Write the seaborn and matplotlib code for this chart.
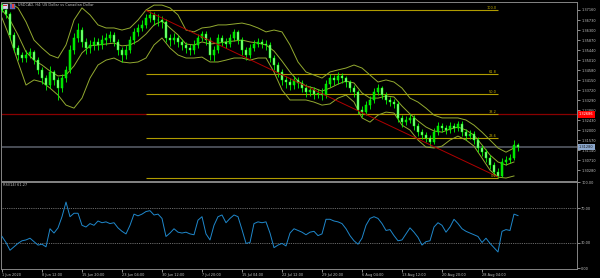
import numpy as np
import pandas as pd
import matplotlib
matplotlib.use("Agg")
import matplotlib.pyplot as plt
import matplotlib.transforms as mtransforms
from matplotlib.patches import Rectangle
import seaborn as sns

# ---------------- data ----------------
symbol_title = "USDCAD, H4: US Dollar vs Canadian Dollar"
rsi_title = "RSI(14) 61.27"

first_open = 1.3737
close = [
    1.3716, 1.3699, 1.3609, 1.3553, 1.3523, 1.3510, 1.3523, 1.3536, 1.3501, 1.3459,
    1.3424, 1.3394, 1.3450, 1.3416, 1.3381, 1.3424, 1.3459, 1.3544, 1.3596, 1.3630,
    1.3579, 1.3553, 1.3566, 1.3579, 1.3566, 1.3587, 1.3596, 1.3609, 1.3579, 1.3544,
    1.3523, 1.3544, 1.3587, 1.3622, 1.3639, 1.3652, 1.3682, 1.3695, 1.3673, 1.3673,
    1.3665, 1.3596, 1.3587, 1.3596, 1.3579, 1.3566, 1.3553, 1.3544, 1.3566, 1.3596,
    1.3613, 1.3587, 1.3523, 1.3544, 1.3596, 1.3579, 1.3570, 1.3596, 1.3622, 1.3587,
    1.3544, 1.3523, 1.3553, 1.3570, 1.3579, 1.3570, 1.3566, 1.3510, 1.3480, 1.3450,
    1.3416, 1.3407, 1.3394, 1.3416, 1.3403, 1.3381, 1.3364, 1.3373, 1.3355, 1.3360,
    1.3351, 1.3398, 1.3424, 1.3416, 1.3433, 1.3424, 1.3407, 1.3381, 1.3364, 1.3287,
    1.3278, 1.3308, 1.3330, 1.3364, 1.3381, 1.3351, 1.3330, 1.3321, 1.3313, 1.3253,
    1.3235, 1.3244, 1.3253, 1.3218, 1.3192, 1.3179, 1.3167, 1.3149, 1.3192, 1.3218,
    1.3210, 1.3201, 1.3218, 1.3210, 1.3227, 1.3192, 1.3175, 1.3184, 1.3158, 1.3124,
    1.3106, 1.3081, 1.3051, 1.3021, 1.3004, 1.3064, 1.3072, 1.3081, 1.3137, 1.3128,
]
high = [
    1.3746, 1.3725, 1.3707, 1.3622, 1.3566, 1.3536, 1.3544, 1.3553, 1.3544, 1.3514,
    1.3471, 1.3437, 1.3476, 1.3459, 1.3428, 1.3441, 1.3476, 1.3566, 1.3617, 1.3660,
    1.3643, 1.3596, 1.3587, 1.3600, 1.3596, 1.3609, 1.3617, 1.3626, 1.3622, 1.3592,
    1.3557, 1.3566, 1.3604, 1.3639, 1.3656, 1.3673, 1.3699, 1.3712, 1.3707, 1.3699,
    1.3690, 1.3677, 1.3613, 1.3617, 1.3609, 1.3592, 1.3579, 1.3570, 1.3587, 1.3613,
    1.3626, 1.3626, 1.3600, 1.3562, 1.3613, 1.3609, 1.3596, 1.3613, 1.3635, 1.3630,
    1.3600, 1.3557, 1.3570, 1.3587, 1.3596, 1.3592, 1.3587, 1.3579, 1.3523, 1.3493,
    1.3463, 1.3433, 1.3424, 1.3433, 1.3428, 1.3416, 1.3398, 1.3390, 1.3386, 1.3377,
    1.3381, 1.3416, 1.3441, 1.3437, 1.3450, 1.3446, 1.3433, 1.3416, 1.3394, 1.3373,
    1.3304, 1.3326, 1.3347, 1.3381, 1.3398, 1.3390, 1.3364, 1.3343, 1.3334, 1.3326,
    1.3265, 1.3261, 1.3270, 1.3265, 1.3231, 1.3205, 1.3192, 1.3179, 1.3210, 1.3235,
    1.3231, 1.3222, 1.3235, 1.3231, 1.3240, 1.3240, 1.3205, 1.3201, 1.3197, 1.3171,
    1.3137, 1.3119, 1.3094, 1.3064, 1.3038, 1.3081, 1.3089, 1.3098, 1.3158, 1.3145,
]
low = [
    1.3707, 1.3682, 1.3587, 1.3536, 1.3501, 1.3493, 1.3493, 1.3510, 1.3484, 1.3441,
    1.3398, 1.3373, 1.3381, 1.3394, 1.3330, 1.3364, 1.3407, 1.3446, 1.3527, 1.3579,
    1.3557, 1.3527, 1.3532, 1.3544, 1.3544, 1.3549, 1.3566, 1.3579, 1.3562, 1.3523,
    1.3493, 1.3506, 1.3532, 1.3570, 1.3604, 1.3626, 1.3639, 1.3665, 1.3652, 1.3647,
    1.3639, 1.3579, 1.3562, 1.3570, 1.3557, 1.3544, 1.3532, 1.3523, 1.3527, 1.3553,
    1.3583, 1.3566, 1.3501, 1.3497, 1.3532, 1.3562, 1.3553, 1.3557, 1.3583, 1.3570,
    1.3523, 1.3501, 1.3510, 1.3540, 1.3557, 1.3553, 1.3544, 1.3493, 1.3459, 1.3428,
    1.3394, 1.3381, 1.3373, 1.3377, 1.3381, 1.3364, 1.3343, 1.3347, 1.3334, 1.3338,
    1.3330, 1.3338, 1.3386, 1.3394, 1.3398, 1.3403, 1.3386, 1.3364, 1.3343, 1.3270,
    1.3257, 1.3265, 1.3291, 1.3317, 1.3351, 1.3334, 1.3313, 1.3304, 1.3295, 1.3235,
    1.3214, 1.3222, 1.3231, 1.3201, 1.3175, 1.3162, 1.3149, 1.3132, 1.3141, 1.3179,
    1.3192, 1.3184, 1.3188, 1.3192, 1.3197, 1.3175, 1.3158, 1.3162, 1.3141, 1.3106,
    1.3089, 1.3064, 1.3034, 1.3004, 1.2995, 1.2999, 1.3051, 1.3059, 1.3072, 1.3111,
]

# Bollinger band readings, one reading every bb_step candles
bb_step = 2
bb_upper = [
    1.3750, 1.3746, 1.3725, 1.3665, 1.3587, 1.3553, 1.3523, 1.3510, 1.3566, 1.3673,
    1.3725, 1.3695, 1.3652, 1.3639, 1.3639, 1.3630, 1.3639, 1.3673, 1.3716, 1.3737,
    1.3737, 1.3725, 1.3695, 1.3630, 1.3622, 1.3639, 1.3643, 1.3652, 1.3652, 1.3656,
    1.3660, 1.3652, 1.3639, 1.3622, 1.3630, 1.3622, 1.3566, 1.3493, 1.3450, 1.3437,
    1.3424, 1.3450, 1.3459, 1.3467, 1.3480, 1.3467, 1.3437, 1.3407, 1.3416, 1.3407,
    1.3381, 1.3338, 1.3321, 1.3295, 1.3265, 1.3253, 1.3253, 1.3253, 1.3244, 1.3222,
    1.3192, 1.3158, 1.3124, 1.3106, 1.3124,
]
bb_mid = [
    1.3716, 1.3673, 1.3609, 1.3536, 1.3501, 1.3480, 1.3454, 1.3433, 1.3437, 1.3476,
    1.3532, 1.3562, 1.3566, 1.3570, 1.3574, 1.3562, 1.3566, 1.3583, 1.3613, 1.3652,
    1.3669, 1.3639, 1.3609, 1.3570, 1.3566, 1.3579, 1.3570, 1.3574, 1.3579, 1.3583,
    1.3587, 1.3579, 1.3574, 1.3566, 1.3540, 1.3497, 1.3450, 1.3411, 1.3390, 1.3381,
    1.3368, 1.3381, 1.3398, 1.3411, 1.3403, 1.3360, 1.3338, 1.3338, 1.3347, 1.3343,
    1.3304, 1.3270, 1.3240, 1.3214, 1.3197, 1.3192, 1.3205, 1.3214, 1.3201, 1.3179,
    1.3137, 1.3094, 1.3064, 1.3051, 1.3064,
]
bb_lower = [
    1.3682, 1.3596, 1.3493, 1.3394, 1.3416, 1.3407, 1.3381, 1.3351, 1.3308, 1.3295,
    1.3338, 1.3424, 1.3480, 1.3501, 1.3510, 1.3493, 1.3489, 1.3493, 1.3510, 1.3566,
    1.3596, 1.3553, 1.3523, 1.3510, 1.3510, 1.3514, 1.3493, 1.3493, 1.3501, 1.3510,
    1.3510, 1.3501, 1.3510, 1.3510, 1.3450, 1.3373, 1.3330, 1.3330, 1.3330, 1.3321,
    1.3308, 1.3313, 1.3338, 1.3351, 1.3321, 1.3253, 1.3235, 1.3265, 1.3278, 1.3274,
    1.3222, 1.3201, 1.3158, 1.3128, 1.3124, 1.3132, 1.3158, 1.3175, 1.3158, 1.3132,
    1.3081, 1.3029, 1.2999, 1.2995, 1.3004,
]

rsi = [
    37, 30, 21, 25, 29, 32, 33, 35, 31, 27,
    28, 25, 46, 41, 47, 60, 77, 60, 64, 64,
    50, 48, 52, 50, 55, 53, 54, 52, 53, 47,
    43, 40, 50, 63, 61, 63, 66, 67, 62, 63,
    58, 37, 41, 46, 42, 41, 42, 40, 39, 56,
    60, 40, 33, 50, 60, 62, 53, 58, 62, 60,
    45, 29, 30, 52, 54, 53, 54, 41, 24, 27,
    29, 26, 41, 46, 44, 42, 39, 42, 43, 38,
    40, 57, 57, 55, 54, 52, 46, 38, 32, 28,
    35, 50, 58, 60, 58, 52, 44, 45, 38, 32,
    33, 40, 47, 42, 36, 27, 31, 32, 48, 53,
    50, 42, 48, 57, 52, 46, 43, 41, 39, 37,
    30, 35, 29, 24, 19, 43, 45, 44, 63, 61.27,
]

price_ticks = [1.37160, 1.36730, 1.36300, 1.35870, 1.35440, 1.35010, 1.34580,
               1.34150, 1.33720, 1.33290, 1.32860, 1.32430, 1.32000, 1.31570,
               1.31140, 1.30710, 1.30280]
time_labels = ["1 Jun 2020", "8 Jun 12:00", "15 Jun 20:00", "23 Jun 04:00",
               "30 Jun 12:00", "7 Jul 20:00", "15 Jul 04:00", "22 Jul 12:00",
               "29 Jul 20:00", "6 Aug 04:00", "13 Aug 12:00", "20 Aug 20:00",
               "28 Aug 04:00"]
time_label_bars = [0, 10, 20, 30, 40, 50, 60, 70, 80, 90, 100, 110, 120]

fib_levels = [0.0, 23.6, 38.2, 50.0, 61.8, 100.0]
fib_high, fib_low = 1.3716, 1.2995
fib_bars = (36, 124)
trend_bars = (36, 124)
trend_prices = (1.3714, 1.3000)
hline_price = 1.32686
current_price = 1.3128
rsi_levels = [70, 30]
rsi_ticks = [100, 70, 30, 0]

# ---------------- style ----------------
plt.rcParams['font.family'] = ['DejaVu Sans']
BG = "black"
FG = "#c4c4c4"
GRID = "#858585"
FS = 2.5

fig = plt.figure(figsize=(6, 2.78), dpi=100, facecolor=BG)
ax = fig.add_axes([1 / 600, 97 / 278, 576 / 600, 179 / 278], facecolor=BG)
ax_rsi = fig.add_axes([1 / 600, 9 / 278, 576 / 600, 87 / 278], facecolor=BG)

n = len(close)
idx = np.arange(n)
c = np.array(close)
o = np.array([first_open] + close[:-1])
hi = np.array(high)
lo = np.array(low)

# horizontal lines
ax.axhline(hline_price, color="#8a0000", lw=0.9, zorder=1)
ax.axhline(current_price, color="#5c616c", lw=1.1, zorder=1)

# fibonacci
for lv in fib_levels:
    p = fib_low + (fib_high - fib_low) * lv / 100.0
    ax.hlines(p, fib_bars[0], fib_bars[1], color="#b09c00", lw=0.8, zorder=1.5)
    ax.text(fib_bars[1] - 0.3, p, f"{lv:.1f}", ha="right", va="bottom",
            fontsize=FS, color="#c8b200", zorder=6)

# bollinger bands via seaborn
bb_x = np.arange(0, n, bb_step)
bb_df = pd.DataFrame({
    "bar": np.concatenate([bb_x, bb_x, bb_x]),
    "price": bb_upper + bb_mid + bb_lower,
    "band": ["upper"] * len(bb_x) + ["mid"] * len(bb_x) + ["lower"] * len(bb_x),
})
sns.lineplot(data=bb_df, x="bar", y="price", units="band", estimator=None,
             color="#93aa30", lw=0.7, ax=ax, legend=False, zorder=2)

# candles
up = c >= o
ax.vlines(idx, lo, hi, color="#00ff00", lw=0.6, zorder=3)
body_bot = np.minimum(o, c)
body_h = np.maximum(np.abs(c - o), 0.00012)
ax.bar(idx[up], body_h[up], bottom=body_bot[up], width=0.55, color="#00e000",
       edgecolor="#00ff00", linewidth=0.35, zorder=3.5)
ax.bar(idx[~up], body_h[~up], bottom=body_bot[~up], width=0.55, color="#8cff8c",
       edgecolor="#00ff00", linewidth=0.35, zorder=3.5)

# trend line
ax.plot(trend_bars, trend_prices, color="#b00000", lw=0.7, zorder=4)

ax.set_xlim(-0.25, 143.75)
ax.set_ylim(1.29824, 1.37503)
ax.set_xlabel("")
ax.set_ylabel("")
ax.set_xticks([])
ax.yaxis.tick_right()
ax.set_yticks(price_ticks)
ax.set_yticklabels([f"{t:.5f}" for t in price_ticks])
ax.tick_params(axis="y", colors=FG, labelsize=FS, length=1.8, width=0.5, pad=1.2)

# price labels on the right scale
trans = mtransforms.blended_transform_factory(ax.transAxes, ax.transData)
ax.text(1.003, hline_price, f"{hline_price:.5f}", transform=trans, fontsize=FS,
        color="white", va="center", ha="left", clip_on=False, zorder=10,
        bbox=dict(boxstyle="square,pad=0.35", fc="#ff0000", ec="none"))
ax.text(1.003, current_price, f"{current_price:.5f}", transform=trans, fontsize=FS,
        color="#101010", va="center", ha="left", clip_on=False, zorder=10,
        bbox=dict(boxstyle="square,pad=0.35", fc="#8aa6cc", ec="none"))

# RSI panel
for lv in rsi_levels:
    ax_rsi.axhline(lv, color="#8c8c8c", lw=0.6, ls=(0, (1, 1.2)), zorder=1)
sns.lineplot(x=idx, y=rsi, color="#1f88cc", lw=0.7, ax=ax_rsi, zorder=3)
ax_rsi.set_xlim(-0.25, 143.75)
ax_rsi.set_ylim(-0.81, 100.35)
ax_rsi.set_xlabel("")
ax_rsi.set_ylabel("")
ax_rsi.yaxis.tick_right()
ax_rsi.set_yticks(rsi_ticks)
ax_rsi.set_yticklabels([f"{t:.2f}" for t in rsi_ticks])
ax_rsi.tick_params(axis="y", colors=FG, labelsize=FS, length=1.8, width=0.5, pad=1.2)
ax_rsi.set_xticks(time_label_bars)
ax_rsi.set_xticklabels(time_labels)
ax_rsi.tick_params(axis="x", colors=FG, labelsize=FS, length=2.2, width=0.5, pad=0.8)
for lbl in ax_rsi.get_xticklabels():
    lbl.set_horizontalalignment("left")
ax_rsi.text(0.003, 0.985, rsi_title, transform=ax_rsi.transAxes, fontsize=FS,
            color=FG, va="top", ha="left")

for a in (ax, ax_rsi):
    a.grid(False)
    for s in a.spines.values():
        s.set_color(GRID)
        s.set_linewidth(0.7)

# title and symbol icon
fig.text(18 / 600, 1 - 5.5 / 278, symbol_title, fontsize=FS, color=FG,
         va="center", ha="left")
fig.patches.append(Rectangle((2.5 / 600, 1 - 8.5 / 278), 5.5 / 600, 5 / 278,
                             transform=fig.transFigure, fc="#d8d8ee", ec="#8080a0", lw=0.3))
fig.patches.append(Rectangle((3 / 600, 1 - 6 / 278), 4 / 600, 1.2 / 278,
                             transform=fig.transFigure, fc="#d03030", ec="none"))
fig.patches.append(Rectangle((9.5 / 600, 1 - 8.5 / 278), 5.5 / 600, 5 / 278,
                             transform=fig.transFigure, fc="#4d5fc0", ec="#8080a0", lw=0.3))
fig.patches.append(Rectangle((11.5 / 600, 1 - 7.5 / 278), 2 / 600, 3 / 278,
                             transform=fig.transFigure, fc="#e04040", ec="none"))

fig.savefig("out.png", dpi=100, facecolor=BG)
